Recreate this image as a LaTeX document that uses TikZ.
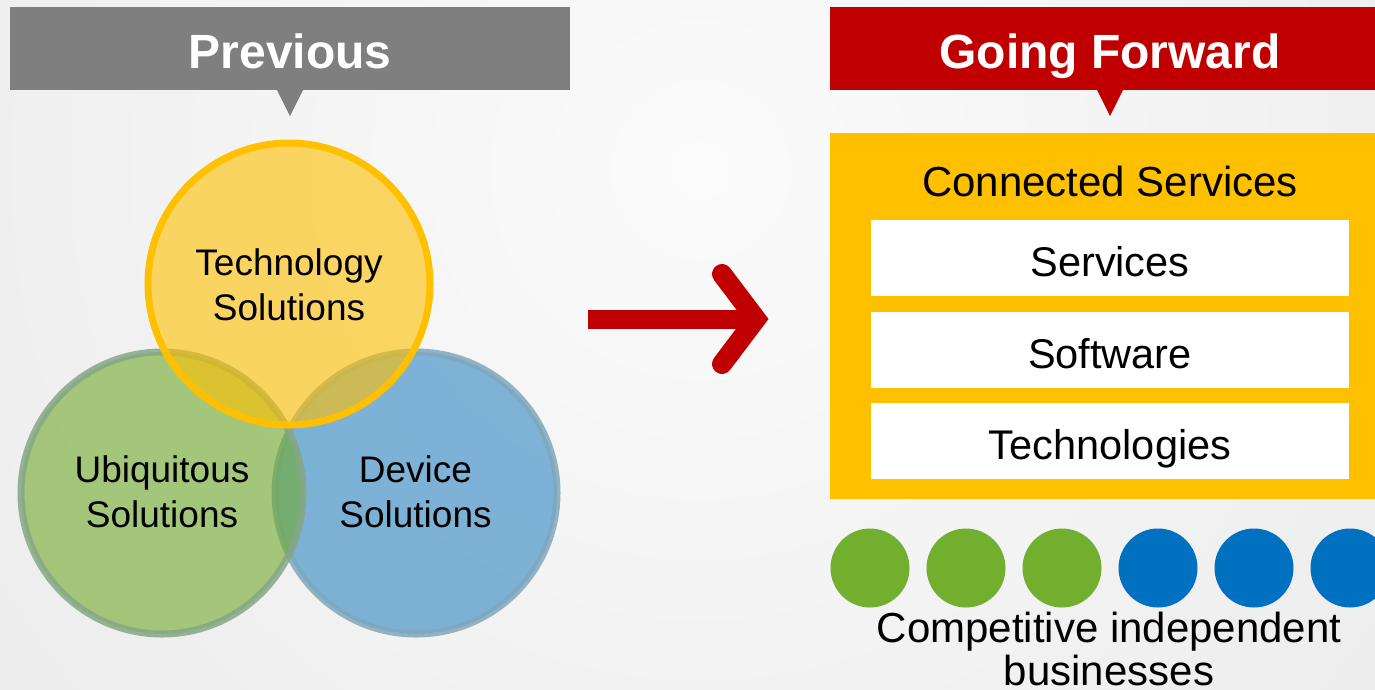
\documentclass[tikz,border=0pt]{standalone}
\usepackage{fontspec}
\setmainfont{Liberation Sans}
\usetikzlibrary{calc}
\definecolor{bgin}{HTML}{FBFBFB}
\definecolor{bgout}{HTML}{E2E2E2}
\definecolor{bannergray}{HTML}{7F7F7F}
\definecolor{bannerred}{HTML}{C00000}
\definecolor{gold}{HTML}{FFC000}
\definecolor{vgreen}{HTML}{71AA2D}
\definecolor{vblue}{HTML}{2E85C3}
\definecolor{vgreenline}{HTML}{85A785}
\definecolor{vblueline}{HTML}{7FA7BB}
\definecolor{dotgreen}{HTML}{72AF2F}
\definecolor{dotblue}{HTML}{0070C0}
\begin{document}
\begin{tikzpicture}[x=1pt,y=-1pt,
  bannerbox/.style={minimum width=#1, minimum height=83pt, inner sep=0pt, draw=none},
  titletext/.style={font=\fontsize{48}{54}\selectfont\bfseries, text=white, inner sep=0pt, anchor=base},
  venntext/.style={font=\fontsize{37}{44.5}\selectfont, text=black, inner sep=0pt, align=center, anchor=base},
  layerbox/.style={fill=white, minimum width=478pt, minimum height=76pt, inner sep=0pt,
    font=\fontsize{41.5}{44}\selectfont, text height=36pt, text depth=0pt},
  rtext/.style={font=\fontsize{42}{43}\selectfont, text=black, inner sep=0pt, align=center, anchor=base},
  bizdot/.style={circle, minimum size=79pt, inner sep=0pt, draw=none},
  arrowline/.style={draw=bannerred, line width=19pt}
]
\useasboundingbox (0,0) rectangle (1375,689);
% background
\fill[bgout] (0,0) rectangle (1375,689);
\begin{scope}
  \clip (0,0) rectangle (1375,689);
  \shade[inner color=bgin, outer color=bgout] (700,170) circle (1500pt);
\end{scope}

% banners
\node[bannerbox=560pt, fill=bannergray] (prevbar) at (290,48.5) {};
\fill[bannergray] ($(prevbar.south)+(-13,0)$) -- ($(prevbar.south)+(13,0)$) -- ($(prevbar.south)+(0,26)$) -- cycle;
\node[titletext] (prevtxt) at (290,68) {Previous};

\node[bannerbox=555pt, fill=bannerred] (fwdbar) at (1107.5,48.5) {};
\coordinate (fwdtip) at (1110,90);
\fill[bannerred] ($(fwdtip)+(-13,0)$) -- ($(fwdtip)+(13,0)$) -- ($(fwdtip)+(0,26)$) -- cycle;
\node[titletext] (fwdtxt) at (1110,68) {Going Forward};

% Venn circles
\coordinate (cg) at (162,493);
\coordinate (cb) at (416,493);
\coordinate (cy) at (289,284);
\fill[vblue, fill opacity=0.6] (cb) circle (141pt);
\draw[vblueline, line width=7pt, draw opacity=0.85] (cb) circle (141pt);
\fill[vgreen, fill opacity=0.6] (cg) circle (141pt);
\draw[vgreenline, line width=7pt, draw opacity=0.85] (cg) circle (141pt);
\fill[gold, fill opacity=0.6] (cy) circle (141pt);
\draw[gold, line width=7pt] (cy) circle (141pt);

\node[venntext] (techsol) at (289,320) {Technology\\Solutions};
\node[venntext] (ubisol) at (162,527) {Ubiquitous\\Solutions};
\node[venntext] (devsol) at (415.5,527) {Device\\Solutions};

% arrow
\coordinate (arrstart) at (588,319);
\coordinate (arrtip) at (756,319);
\coordinate (arrtop) at (722,274);
\coordinate (arrbot) at (722,364);
\draw[arrowline, line cap=butt] (arrstart) -- (arrtip);
\draw[draw=bannerred, line width=20pt, line cap=round, line join=miter] (arrtop) -- (arrtip) -- (arrbot);

% connected services block
\node[fill=gold, minimum width=555pt, minimum height=366pt, inner sep=0pt] (cs) at (1107.5,316) {};
\node[rtext] (cstxt) at (1110,196) {Connected Services};
\node[layerbox] (services) at (1110,258) {Services};
\node[layerbox] (software) at (1110,350) {Software};
\node[layerbox] (technologies) at (1110,441) {Technologies};

% dots
\node[bizdot, fill=dotgreen] (d1) at (870,568) {};
\node[bizdot, fill=dotgreen] (d2) at (966,568) {};
\node[bizdot, fill=dotgreen] (d3) at (1062,568) {};
\node[bizdot, fill=dotblue] (d4) at (1158,568) {};
\node[bizdot, fill=dotblue] (d5) at (1254,568) {};
\node[bizdot, fill=dotblue] (d6) at (1350,568) {};

\node[rtext] (biz) at (1109,685) {Competitive independent\\businesses};
\end{tikzpicture}
\end{document}
